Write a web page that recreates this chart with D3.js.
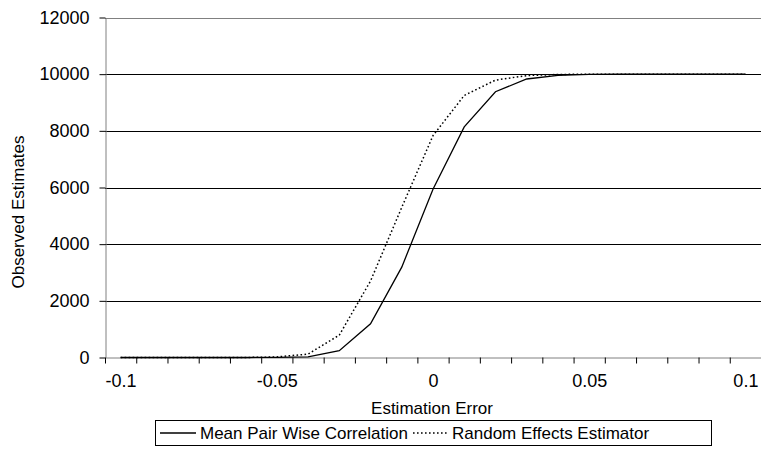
<!DOCTYPE html>
<html>
<head>
<meta charset="utf-8">
<script src="https://cdn.jsdelivr.net/npm/d3@7"></script>
<style>
  body { margin: 0; background: #fff; }
  svg { display: block; font-family: "Liberation Sans", Arial, sans-serif; }
  .axis text { font-size: 18px; fill: #000; }
  .axis .domain { stroke: #808080; }
  .axis .tick line { stroke: #000; }
  .title { font-size: 17px; fill: #000; }
  .legend text { font-size: 17px; fill: #000; }
</style>
</head>
<body>
<svg id="chart" width="761" height="469"></svg>
<script>
// estimation error categories
const errors = [-0.1, -0.09, -0.08, -0.07, -0.06, -0.05, -0.04, -0.03, -0.02, -0.01, 0,
  0.01, 0.02, 0.03, 0.04, 0.05, 0.06, 0.07, 0.08, 0.09, 0.1];

// observed estimates (cumulative counts)
const meanPairWise = [0, 0, 0, 0, 0, 5, 25, 240, 1190, 3190, 5940,
  8140, 9380, 9830, 9960, 9995, 10000, 10000, 10000, 10000, 10000];
const randomEffects = [0, 0, 0, 0, 0, 20, 120, 790, 2700, 5300, 7830,
  9250, 9790, 9950, 9990, 10000, 10000, 10000, 10000, 10000, 10000];

const yTicks = [0, 2000, 4000, 6000, 8000, 10000, 12000];
const xLabels = ['-0.1', '-0.05', '0', '0.05', '0.1'];

const svg = d3.select('#chart');

const plotLeft = 105, plotRight = 761, plotTop = 17.5, plotBottom = 357.5;

// category axis: each value sits in the middle of a 0.01-wide slot
let x = d3.scaleLinear()
  .domain([-0.105, 0.105])
  .range([plotLeft, plotRight]);

let y = d3.scaleLinear()
  .domain([0, 12000])
  .range([plotBottom, plotTop]);

// gridlines
svg.append('g')
  .attr('class', 'grid')
  .selectAll('line')
  .data(yTicks.slice(1))
  .enter()
  .append('line')
  .attr('x1', plotLeft)
  .attr('x2', plotRight)
  .attr('y1', d => Math.round(y(d)) + 0.5)
  .attr('y2', d => Math.round(y(d)) + 0.5)
  .style('stroke', d => d == 12000 ? '#808080' : '#000')
  .style('stroke-width', 1)

// slot boundaries for the tick marks
let bounds = d3.range(22).map(i => -0.105 + i * 0.01)

svg.append('g')
  .attr('class', 'axis')
  .attr('transform', 'translate(0,' + plotBottom + ')')
  .call(d3.axisBottom(x).tickValues(bounds).tickSize(6).tickSizeOuter(0).tickFormat(''))

svg.append('g')
  .attr('class', 'axis xlabels')
  .attr('transform', 'translate(0,' + plotBottom + ')')
  .call(d3.axisBottom(x).tickValues(xLabels.map(Number)).tickSize(0).tickPadding(17)
    .tickFormat((d, i) => xLabels[i]))
  .call(g => g.select('.domain').remove())

svg.append('g')
  .attr('class', 'axis')
  .attr('transform', 'translate(' + (plotLeft + 0.5) + ',0)')
  .call(d3.axisLeft(y).tickValues(yTicks).tickSize(6).tickSizeOuter(0).tickPadding(10).tickFormat(d => String(d)))

// lines
let line = d3.line()
  .x((d, i) => x(errors[i]))
  .y(d => y(d))

svg.append('path')
  .datum(meanPairWise)
  .attr('d', line)
  .style('fill', 'none')
  .style('stroke', '#000')
  .style('stroke-width', 1.3)

svg.append('path')
  .datum(randomEffects)
  .attr('d', line)
  .style('fill', 'none')
  .style('stroke', '#000')
  .style('stroke-width', 1.5)
  .style('stroke-dasharray', '1.6,2.4')

// axis titles
svg.append('text')
  .attr('class', 'title')
  .attr('x', 432)
  .attr('y', 414)
  .attr('text-anchor', 'middle')
  .text('Estimation Error')

svg.append('text')
  .attr('class', 'title')
  .attr('transform', 'translate(24,212) rotate(-90)')
  .attr('text-anchor', 'middle')
  .text('Observed Estimates')

// legend
let legend = svg.append('g').attr('class', 'legend')

legend.append('rect')
  .attr('x', 155.5)
  .attr('y', 420.5)
  .attr('width', 556)
  .attr('height', 25)
  .style('fill', '#fff')
  .style('stroke', '#000')

legend.append('line')
  .attr('x1', 160).attr('x2', 196)
  .attr('y1', 433).attr('y2', 433)
  .style('stroke', '#000').style('stroke-width', 1.3)

legend.append('text')
  .attr('x', 200).attr('y', 439)
  .text('Mean Pair Wise Correlation')

legend.append('line')
  .attr('x1', 413).attr('x2', 449)
  .attr('y1', 433).attr('y2', 433)
  .style('stroke', '#000').style('stroke-width', 1.5)
  .style('stroke-dasharray', '1.6,2.4')

legend.append('text')
  .attr('x', 452).attr('y', 439)
  .text('Random Effects Estimator')
</script>
</body>
</html>
